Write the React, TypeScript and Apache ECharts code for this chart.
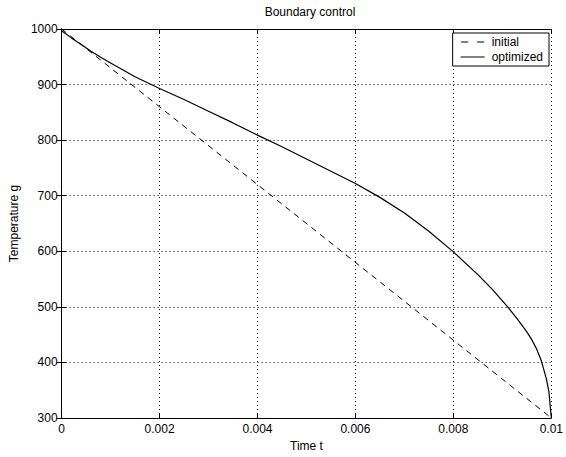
import React, { useEffect, useRef } from "react";
import * as echarts from "echarts";

const timeInitial = [0, 0.01];
const tempInitial = [1000, 300];

const timeOptimized = [
  0, 0.0002, 0.0004, 0.0006, 0.0008, 0.001, 0.0015, 0.002, 0.0025, 0.003,
  0.0035, 0.004, 0.0045, 0.005, 0.0055, 0.006, 0.0065, 0.007, 0.0075, 0.008,
  0.0085, 0.0088, 0.0091, 0.0093, 0.0095, 0.0096, 0.0097, 0.0098, 0.0099, 0.00995, 0.01,
];
const tempOptimized = [
  997, 984, 972, 960, 949, 939, 914, 893, 873, 852, 831, 809, 788, 766, 744,
  722, 697, 669, 636, 599, 558, 531, 501, 479, 455, 441, 424, 402, 370, 348, 300,
];

const xTicks = { min: 0, max: 0.01, interval: 0.002 };
const yTicks = { min: 300, max: 1000, interval: 100 };

const FONT = "Liberation Sans";

export default function App() {
  const ref = useRef<HTMLDivElement>(null);
  useEffect(() => {
    if (!ref.current) return;
    const chart = echarts.init(ref.current, null, { renderer: "svg" });
    const axisLine = { show: true, lineStyle: { color: "#000", width: 1 } };
    const axisTick = { show: true, inside: true, length: 5, lineStyle: { color: "#000" } };
    const split = { show: true, lineStyle: { color: "#000", type: [1, 3] as any, width: 1 } };
    chart.setOption({
      animation: false,
      backgroundColor: "#fff",
      textStyle: { fontFamily: FONT },
      title: {
        text: "Boundary control",
        left: 305,
        textAlign: "center",
        top: 1,
        textStyle: { fontSize: 12, fontWeight: "normal", color: "#000", fontFamily: FONT },
      },
      legend: {
        orient: "vertical",
        right: 17,
        top: 33,
        backgroundColor: "#fff",
        borderColor: "#000",
        borderWidth: 1,
        borderRadius: 0,
        padding: [3, 6, 3, 8],
        itemGap: 3,
        itemWidth: 24,
        itemHeight: 1,
        textStyle: { fontSize: 12, color: "#000", fontFamily: FONT, padding: [0, 0, 0, 2] },
        data: [
          { name: "initial", icon: "path://M0,0H7V1H0Z M16,0H23V1H16Z", itemStyle: { color: "#000" } },
          { name: "optimized", icon: "path://M0,0H24V1H0Z", itemStyle: { color: "#000" } },
        ],
      },
      grid: { left: 58, right: 13, top: 29, bottom: 37, containLabel: false },
      xAxis: [
        {
          type: "value",
          ...xTicks,
          position: "bottom",
          name: "Time t",
          nameLocation: "middle",
          nameGap: 22,
          nameTextStyle: { fontSize: 12, color: "#000", fontFamily: FONT },
          axisLine,
          axisTick,
          splitLine: split,
          axisLabel: { fontSize: 12, color: "#000", margin: 5, fontFamily: FONT, formatter: (v: number) => String(v) },
        },
        {
          type: "value",
          ...xTicks,
          position: "top",
          axisLine,
          axisTick,
          splitLine: { show: false },
          axisLabel: { show: false },
        },
      ],
      yAxis: [
        {
          type: "value",
          ...yTicks,
          position: "left",
          name: "Temperature g",
          nameLocation: "middle",
          nameGap: 37,
          nameTextStyle: { fontSize: 12, color: "#000", fontFamily: FONT },
          axisLine,
          axisTick,
          splitLine: split,
          axisLabel: { fontSize: 12, color: "#000", margin: 4, fontFamily: FONT, formatter: (v: number) => String(v) },
        },
        {
          type: "value",
          ...yTicks,
          position: "right",
          axisLine,
          axisTick,
          splitLine: { show: false },
          axisLabel: { show: false },
        },
      ],
      series: [
        {
          name: "initial",
          type: "line",
          showSymbol: false,
          symbol: "none",
          data: timeInitial.map((t, i) => [t, tempInitial[i]]),
          lineStyle: { color: "#000", width: 1, type: [6, 5] as any },
          itemStyle: { color: "#000" },
        },
        {
          name: "optimized",
          type: "line",
          showSymbol: false,
          symbol: "none",
          smooth: false,
          data: timeOptimized.map((t, i) => [t, tempOptimized[i]]),
          lineStyle: { color: "#000", width: 1.2 },
          itemStyle: { color: "#000" },
        },
      ],
    });
    return () => chart.dispose();
  }, []);
  return <div ref={ref} style={{ width: 566, height: 457, position: "absolute", left: 0, top: 0 }} />;
}
